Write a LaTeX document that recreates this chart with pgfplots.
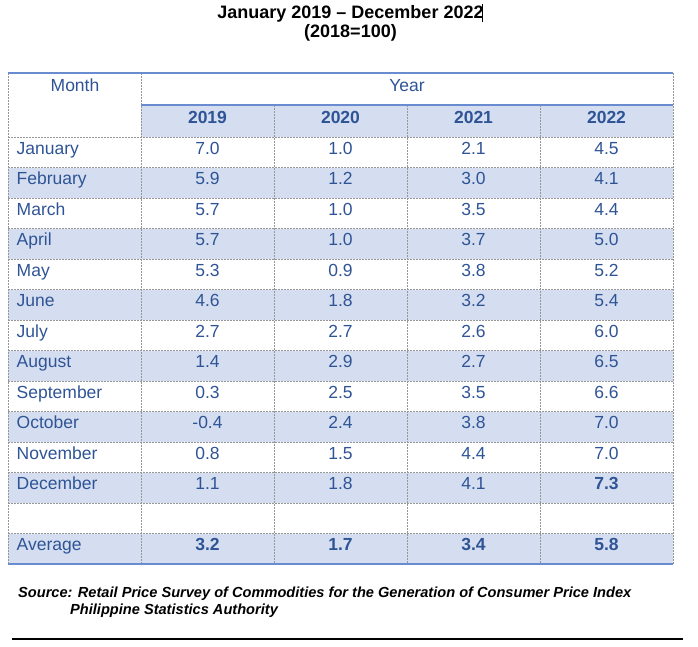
\documentclass[border=0pt]{standalone}
\usepackage{fontspec}
\setmainfont{Liberation Sans}
\usepackage{pgfplots}
\usepackage{pgfplotstable}
\pgfplotsset{compat=1.18}
\definecolor{tblue}{RGB}{47,84,150}
\definecolor{tfill}{RGB}{212,222,240}
\definecolor{tline}{RGB}{105,140,208}
\definecolor{tgrid}{RGB}{150,150,150}
\newcommand\cellfont{\fontsize{17.5}{21}\selectfont}
\tikzset{gridline/.style={tgrid, line width=0.8pt, dash pattern=on 2pt off 1pt}}

\pgfplotstableread{
r month v2019 v2020 v2021 v2022
0 January 7.0 1.0 2.1 4.5
1 February 5.9 1.2 3.0 4.1
2 March 5.7 1.0 3.5 4.4
3 April 5.7 1.0 3.7 5.0
4 May 5.3 0.9 3.8 5.2
5 June 4.6 1.8 3.2 5.4
6 July 2.7 2.7 2.6 6.0
7 August 1.4 2.9 2.7 6.5
8 September 0.3 2.5 3.5 6.6
9 October -0.4 2.4 3.8 7.0
10 November 0.8 1.5 4.4 7.0
11 December 1.1 1.8 4.1 7.3
}\monthly

\pgfplotstableread{
x avg
207.5 3.2
340.5 1.7
473.5 3.4
606.5 5.8
}\averages

\pgfplotsset{
  cell/.style={only marks, mark=none, nodes near coords, point meta=explicit symbolic,
    every node near coord/.append style={anchor=base, inner sep=0pt, text=tblue, font=\cellfont}},
  cellbold/.style={cell, every node near coord/.append style={font=\cellfont\bfseries}},
  cellleft/.style={cell, every node near coord/.append style={anchor=base west}},
}

\begin{document}
\begin{tikzpicture}
\begin{axis}[
  width=698pt, height=646pt, scale only axis,
  xmin=0, xmax=698, ymin=0, ymax=646, y dir=reverse,
  hide axis, clip=false,
]
\path (axis cs:0,0) rectangle (axis cs:698,646);
% shaded rows
\fill[tfill] (axis cs:141,105) rectangle (axis cs:673,137);
\pgfplotsinvokeforeach{1,3,5,7,9,11,13}{
  \fill[tfill] (axis cs:8,{137+30.5*#1}) rectangle (axis cs:673,{137+30.5*(#1+1)});
}
% dashed grid
\pgfplotsinvokeforeach{0,1,2,3,4,5,6,7,8,9,10,11,12,13}{
  \draw[gridline] (axis cs:8,{137+30.5*#1}) -- (axis cs:673,{137+30.5*#1});
}
\pgfplotsinvokeforeach{8,141,673}{
  \draw[gridline] (axis cs:#1,73) -- (axis cs:#1,564);
}
\pgfplotsinvokeforeach{274,407,540}{
  \draw[gridline] (axis cs:#1,105) -- (axis cs:#1,564);
}
% solid blue rules
\draw[tline, line width=1.3pt] (axis cs:8,73) -- (axis cs:673,73);
\draw[tline, line width=1.3pt] (axis cs:141,105) -- (axis cs:673,105);
\draw[tline, line width=1.3pt] (axis cs:8,564) -- (axis cs:673,564);

% header text
\node[anchor=base, text=tblue, font=\cellfont, inner sep=0pt] at (axis cs:75,91.5) {Month};
\node[anchor=base, text=tblue, font=\cellfont, inner sep=0pt] at (axis cs:407,91.5) {Year};
\node[anchor=base, text=tblue, font=\cellfont\bfseries, inner sep=0pt] at (axis cs:207.5,123.5) {2019};
\node[anchor=base, text=tblue, font=\cellfont\bfseries, inner sep=0pt] at (axis cs:340.5,123.5) {2020};
\node[anchor=base, text=tblue, font=\cellfont\bfseries, inner sep=0pt] at (axis cs:473.5,123.5) {2021};
\node[anchor=base, text=tblue, font=\cellfont\bfseries, inner sep=0pt] at (axis cs:606.5,123.5) {2022};

% table body
\addplot[cellleft] table[x expr=16.5, y expr=154+30.5*\thisrow{r}, meta=month] {\monthly};
\addplot[cell] table[x expr=207.5, y expr=154+30.5*\thisrow{r}, meta=v2019] {\monthly};
\addplot[cell] table[x expr=340.5, y expr=154+30.5*\thisrow{r}, meta=v2020] {\monthly};
\addplot[cell] table[x expr=473.5, y expr=154+30.5*\thisrow{r}, meta=v2021] {\monthly};
\addplot[cell, skip coords between index={11}{12}] table[x expr=606.5, y expr=154+30.5*\thisrow{r}, meta=v2022] {\monthly};
\addplot[cellbold, skip coords between index={0}{11}] table[x expr=606.5, y expr=154+30.5*\thisrow{r}, meta=v2022] {\monthly};
% average row
\node[anchor=base west, text=tblue, font=\cellfont, inner sep=0pt] at (axis cs:16.5,550.5) {Average};
\addplot[cellbold] table[x=x, y expr=550.5, meta=avg] {\averages};

% title
\node[anchor=base, font=\fontsize{18}{21}\selectfont\bfseries, inner sep=0pt] at (axis cs:350.5,18.5) {January 2019 -- December 2022};
\node[anchor=base, font=\fontsize{18}{21}\selectfont\bfseries, inner sep=0pt] at (axis cs:350.5,37.5) {(2018=100)};
\draw[black, line width=0.8pt] (axis cs:482,4) -- (axis cs:482,22);

% source
\node[anchor=base west, font=\fontsize{14.6}{17}\selectfont\bfseries\itshape, inner sep=0pt] at (axis cs:18,597) {Source: Retail Price Survey of Commodities for the Generation of Consumer Price Index};
\node[anchor=base west, font=\fontsize{14.6}{17}\selectfont\bfseries\itshape, inner sep=0pt] at (axis cs:70,614) {Philippine Statistics Authority};
\draw[black, line width=2pt] (axis cs:12,639) -- (axis cs:683,639);
\end{axis}
\end{tikzpicture}
\end{document}
